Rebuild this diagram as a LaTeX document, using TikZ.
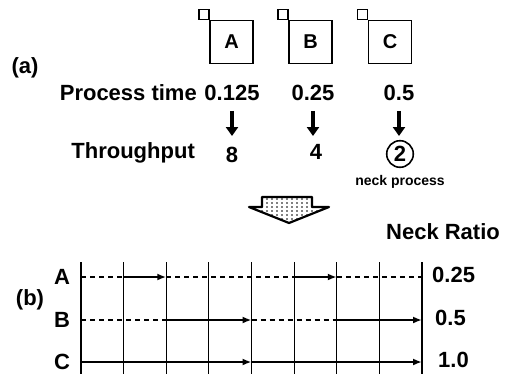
\documentclass[tikz,border=0pt]{standalone}
\usepackage{fontspec}
\setmainfont{Liberation Sans}
\usetikzlibrary{arrows.meta,positioning}

\tikzset{
  lbl/.style={font=\bfseries\fontsize{22}{24}\selectfont, inner sep=0pt},
  small/.style={font=\bfseries\fontsize{14}{16}\selectfont, inner sep=0pt},
  proc/.style={draw, line width=1.8pt, minimum size=43pt, inner sep=0pt,
    font=\bfseries\fontsize{20}{22}\selectfont},
  port/.style={draw, line width=1.5pt, minimum size=10pt, inner sep=0pt, fill=white},
  down/.style={line width=3.4pt, -{Triangle[length=9pt,width=12pt]}},
  busy/.style={line width=2.4pt, -{Latex[length=9pt,width=7pt]}},
  idle/.style={line width=1.5pt, dash pattern=on 5pt off 4pt},
  gridline/.style={line width=1.2pt}
}

\begin{document}
\begin{tikzpicture}[x=1pt,y=-1pt]
\useasboundingbox (0,0) rectangle (510,374);
% (a) processes
\node[lbl] (taga) at (25,68) {(a)};
\node[proc] (A) at (231.5,42) {A};
\node[proc] (B) at (310.5,42) {B};
\node[proc] (C) at (390,42) {C};
\foreach \p in {A,B,C}
    \node[port] (port\p) at ([shift={(-5,-5)}]\p.north west) {};
\node[lbl, anchor=east] (ptime) at (197,93) {Process time};
\node[lbl] (tA) at (232,93) {0.125};
\node[lbl] (tB) at (313,93) {0.25};
\node[lbl] (tC) at (399,93) {0.5};
\node[lbl, anchor=east] (thru) at (195,153) {Throughput};
\node[lbl] (vA) at (232,155) {8};
\node[lbl] (vB) at (316,152) {4};
\node[lbl, draw, circle, line width=1.6pt, inner sep=2.5pt] (vC) at (400,154) {2};
\node[small] (neck) at (400,182) {neck process};
\foreach \p in {A,B,C}
    \draw[down, shorten <=10pt, shorten >=11pt] (t\p.south) -- (t\p.south |- vA.north);
% big arrow
\begin{scope}
\clip (262,197) -- (312,197) -- (312,207) -- (329,207) -- (289,223) -- (249,207) -- (262,207) -- cycle;
\foreach \x in {252,257,...,327}
    \foreach \y in {199,203,...,219}
        \fill (\x,\y) circle (0.8);
\end{scope}
\draw[line width=2.2pt, line join=round] (262,197) -- (312,197) -- (312,207) -- (329,207)
    -- (289,223) -- (249,207) -- (262,207) -- cycle;
\node[lbl] (ratio) at (443,232) {Neck Ratio};
% (b) timing chart
\node[lbl] (tagb) at (30,300) {(b)};
\foreach \i in {0,...,8} {
    \coordinate (top\i) at (81+42.625*\i,262);
    \coordinate (bot\i) at (81+42.625*\i,374);
    \draw[gridline] (top\i) -- (bot\i);
}
\foreach \r/\y in {A/277,B/320,C/362} {
    \node[lbl] (row\r) at (62,\y) {\r};
    \foreach \i in {0,...,8}
        \coordinate (\r\i) at (81+42.625*\i,\y);
}
\node[lbl, anchor=west] (nrA) at (432,275) {0.25};
\node[lbl, anchor=west] (nrB) at (435,318) {0.5};
\node[lbl, anchor=west] (nrC) at (438,360) {1.0};
\draw[idle] (A0) -- (A1);
\draw[busy] (A1) -- (A2);
\draw[idle] (A2) -- (A5);
\draw[busy] (A5) -- (A6);
\draw[idle] (A6) -- (A8);
\draw[idle] (B0) -- (B2);
\draw[busy] (B2) -- (B4);
\draw[idle] (B4) -- (B6);
\draw[busy] (B6) -- (B8);
\draw[busy] (C0) -- (C4);
\draw[busy] (C4) -- (C8);
\end{tikzpicture}
\end{document}
